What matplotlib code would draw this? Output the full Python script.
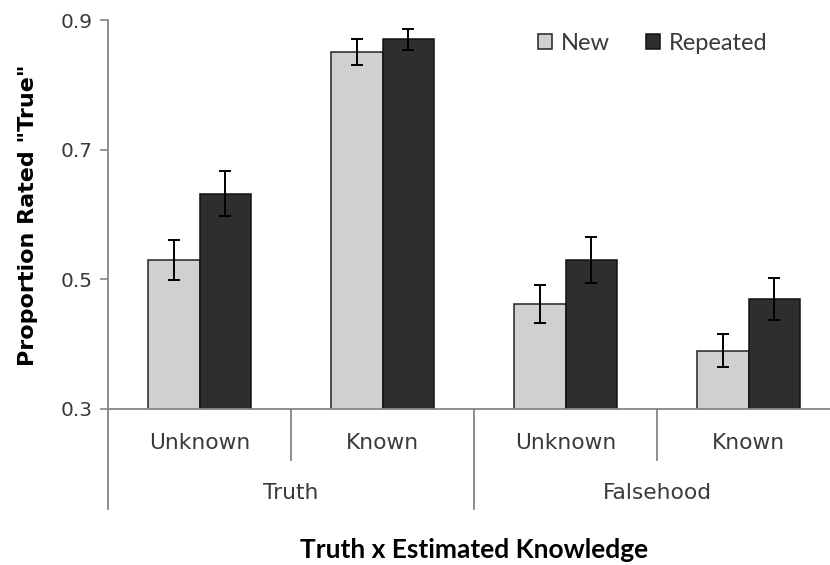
import matplotlib
matplotlib.use("Agg")
import matplotlib.pyplot as plt
import matplotlib.transforms as mtransforms
import numpy as np

# data
subcats = ["Unknown", "Known", "Unknown", "Known"]
groups = ["Truth", "Falsehood"]
new_vals = [0.530, 0.851, 0.462, 0.390]
new_err = [0.031, 0.020, 0.030, 0.025]
rep_vals = [0.632, 0.870, 0.530, 0.470]
rep_err = [0.035, 0.016, 0.035, 0.032]

light = "#d0d0d0"
dark = "#2e2e2e"
axcol = "#868686"
txtcol = "#3a3a3a"

fig = plt.figure(figsize=(8.3, 5.65), dpi=100)
# axis runs past the right edge like in the original
ax = fig.add_axes([108/830, 156/565, 732/830, 389/565])

x = np.arange(len(subcats))
w = 0.284
ekw = dict(ecolor="black", elinewidth=1.4, capsize=4.5, capthick=1.4)
ax.bar(x - w/2, new_vals, w, yerr=new_err, color=light, edgecolor="#222222",
       linewidth=1.1, error_kw=ekw, label="New")
ax.bar(x + w/2, rep_vals, w, yerr=rep_err, color=dark, edgecolor="#111111",
       linewidth=1.1, error_kw=ekw, label="Repeated")

ax.set_xlim(-0.5, 3.5)
ax.set_ylim(0.3, 0.9)
ax.set_yticks([0.3, 0.5, 0.7, 0.9])
ax.set_yticklabels(["0.3", "0.5", "0.7", "0.9"])
ax.tick_params(axis="y", direction="out", length=6, color=axcol, width=1.2,
               labelsize=14.5, labelcolor=txtcol, pad=5)
ax.set_xticks([])

for s in ["top", "right"]:
    ax.spines[s].set_visible(False)
for s in ["left", "bottom"]:
    ax.spines[s].set_color(axcol)
    ax.spines[s].set_linewidth(1.3)

# category separators below the axis
trans = mtransforms.blended_transform_factory(ax.transData, ax.transAxes)
short = -51/389
long_ = -100/389
for b in [-0.5, 1.5, 3.5]:
    ax.plot([b, b], [0, long_], color=axcol, lw=1.3, transform=trans, clip_on=False)
for b in [0.5, 2.5]:
    ax.plot([b, b], [0, short], color=axcol, lw=1.3, transform=trans, clip_on=False)

for i, lab in enumerate(subcats):
    ax.text(i, -34/389, lab, transform=trans, ha="center", va="center",
            fontsize=15.7, color=txtcol)
for j, lab in enumerate(groups):
    ax.text(2*j + 0.5, -84/389, lab, transform=trans, ha="center", va="center",
            fontsize=15.7, color=txtcol)

fig.text(474/830, 1 - 550/565, "Truth x Estimated Knowledge", ha="center",
         va="center", fontsize=19, fontweight="bold", family="Lato", color="black")
fig.text(28/830, 1 - 215/565, 'Proportion Rated "True"', ha="center", va="center",
         rotation=90, fontsize=16, fontweight="bold", color="black")

handles, labels = ax.get_legend_handles_labels()
leg = fig.legend(handles, labels, loc="upper left",
                 bbox_to_anchor=(538/830, 1 - 33/565), ncol=2,
                 frameon=False, prop={"family": "Lato", "size": 17},
                 handlelength=0.6, handleheight=0.6, handletextpad=0.38,
                 columnspacing=1.5, borderpad=0, borderaxespad=0)
for t in leg.get_texts():
    t.set_color(txtcol)

fig.savefig("out.png", dpi=100)
